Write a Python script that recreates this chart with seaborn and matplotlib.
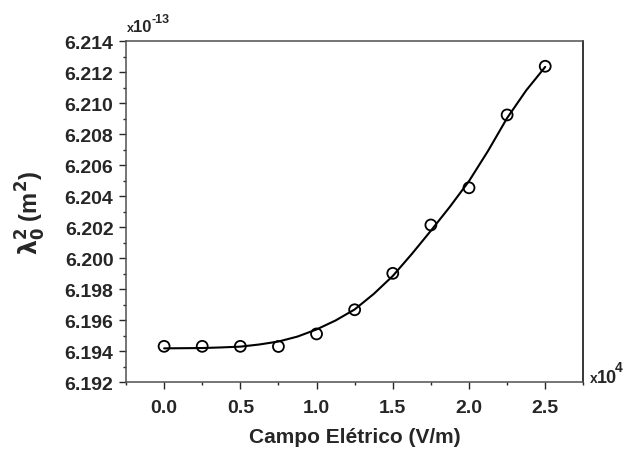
#imports
import numpy as np
import pandas as pd
import matplotlib
matplotlib.use("Agg")
import matplotlib.pyplot as plt
import seaborn as sns
from matplotlib.ticker import MultipleLocator, FormatStrFormatter

#measured points (x in 1e4 V/m, lambda0^2 in 1e-13 m^2)
campo = [0.0, 0.25, 0.5, 0.75, 1.0, 1.25, 1.5, 1.75, 2.0, 2.25, 2.5]
lambda2 = [6.19432, 6.19432, 6.19432, 6.19431, 6.19512, 6.19668,
           6.19903, 6.20215, 6.20455, 6.20925, 6.21239]

#fitted curve
campo_fit = [0.0, 0.125, 0.25, 0.375, 0.5, 0.625, 0.75, 0.875, 1.0, 1.125,
             1.25, 1.375, 1.5, 1.625, 1.75, 1.875, 2.0, 2.125, 2.25, 2.375, 2.5]
lambda2_fit = [6.19419, 6.19420, 6.19421, 6.19425, 6.19430, 6.19444, 6.19463,
               6.19495, 6.19541, 6.19599, 6.19670, 6.19770, 6.19886, 6.20028,
               6.20178, 6.20333, 6.20498, 6.20693, 6.20905, 6.21083, 6.21235]

df_pts = pd.DataFrame({'campo': campo, 'lambda2': lambda2})
df_fit = pd.DataFrame({'campo': campo_fit, 'lambda2': lambda2_fit})

sns.set_style("ticks")
plt.rcParams['font.family'] = ['Liberation Sans', 'DejaVu Sans']
plt.rcParams['font.weight'] = 'bold'
plt.rcParams['mathtext.default'] = 'bf'

# create a figure and axis
fig = plt.figure(figsize=(6.29, 4.52), dpi=100)
ax = fig.add_axes([0.2003, 0.152, 0.7271, 0.7544])

#visualization
sns.lineplot(data=df_fit, x='campo', y='lambda2', color='black', linewidth=1.5, ax=ax)
sns.scatterplot(data=df_pts, x='campo', y='lambda2', marker='o', s=62,
                facecolors='none', edgecolor='black', linewidth=1.3, ax=ax, zorder=3)

ax.set_xlim(-0.25, 2.75)
ax.set_ylim(6.192, 6.214)
ax.xaxis.set_major_locator(MultipleLocator(0.5))
ax.xaxis.set_minor_locator(MultipleLocator(0.25))
ax.yaxis.set_major_locator(MultipleLocator(0.002))
ax.yaxis.set_minor_locator(MultipleLocator(0.001))
ax.xaxis.set_major_formatter(FormatStrFormatter('%.1f'))
ax.yaxis.set_major_formatter(FormatStrFormatter('%.3f'))
ax.tick_params(which='major', direction='out', length=5, width=1, labelsize=14, pad=4)
ax.tick_params(which='minor', direction='out', length=2.5, width=1)
ax.tick_params(axis='x', which='major', pad=7)
for lab in ax.get_xticklabels() + ax.get_yticklabels():
    lab.set_fontweight('bold')

for side in ['left', 'bottom', 'top']:
    ax.spines[side].set_color('#505050')
    ax.spines[side].set_linewidth(1.1)
ax.spines['right'].set_color('black')
ax.spines['right'].set_linewidth(1.1)

ax.set_xlabel('Campo Elétrico (V/m)', fontsize=15, fontweight='bold', labelpad=8)
ax.set_ylabel(r'$\lambda_0^2$ (m$^2$)', fontsize=17, fontweight='bold', labelpad=12)

#multipliers
fig.text(127 / 629, 1 - 32 / 452, 'x', fontsize=9, fontweight='bold', ha='left', va='baseline')
fig.text(133 / 629, 1 - 32 / 452, '10', fontsize=12, fontweight='bold', ha='left', va='baseline')
fig.text(152 / 629, 1 - 23 / 452, '-13', fontsize=9, fontweight='bold', ha='left', va='baseline')
fig.text(590 / 629, 1 - 383 / 452, 'x', fontsize=10, fontweight='bold', ha='left', va='baseline')
fig.text(597 / 629, 1 - 383 / 452, '10', fontsize=13, fontweight='bold', ha='left', va='baseline')
fig.text(615 / 629, 1 - 372 / 452, '4', fontsize=10, fontweight='bold', ha='left', va='baseline')

fig.savefig('out.png', dpi=100)
